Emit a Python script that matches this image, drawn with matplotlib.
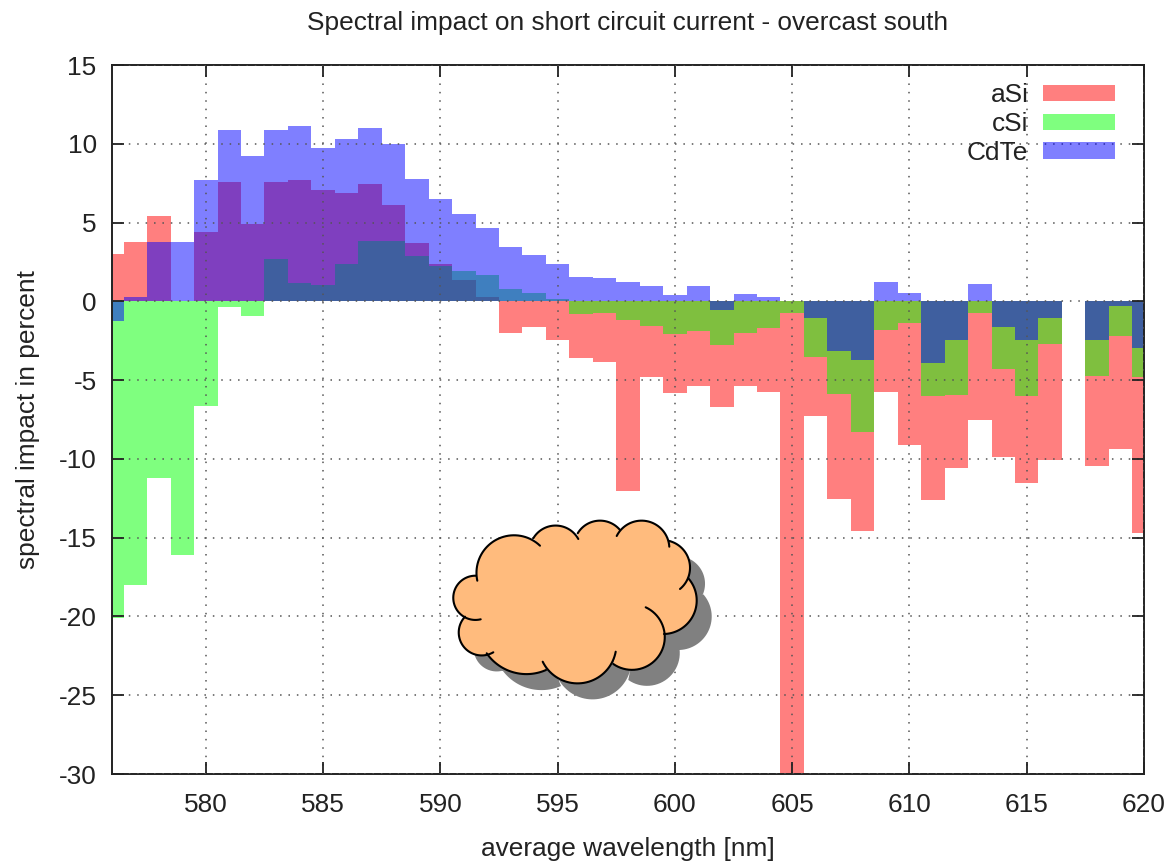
import numpy as np
import matplotlib
matplotlib.use("Agg")
import matplotlib.pyplot as plt
from matplotlib.patches import Patch

plt.rcParams['font.family'] = ['Liberation Sans', 'DejaVu Sans']
plt.rcParams['axes.unicode_minus'] = False

WIDTH, HEIGHT = 1173, 866
FONT_SIZE = 18.9

wavelength = list(range(576, 621))

asi = [3.0, 3.76, 5.43, 0, 4.4, 7.59, 4.93, 7.57, 7.67, 7.08,
       6.87, 7.44, 6.11, 3.72, 2.39, 1.33, 0.25, -2.03, -1.61, -2.47,
       -3.59, -3.85, -12.05, -4.8, -5.81, -5.39, -6.68, -5.39, -5.73, -32.0,
       -7.3, -12.53, -14.6, -5.76, -9.1, -12.59, -10.6, -7.54, -9.9, -11.53,
       -10.05, 0, -10.48, -9.38, -14.7]
csi = [-20.1, -18.0, -11.2, -16.1, -6.67, -0.37, -0.91, 2.66, 1.14, 1.01,
       2.37, 3.8, 3.8, 2.9, 2.26, 1.92, 1.67, 0.8, 0.51, 0.15,
       -0.8, -0.72, -1.21, -1.54, -2.09, -1.88, -2.79, -2.0, -1.69, -0.72,
       -3.54, -5.87, -8.32, -1.85, -1.38, -5.99, -5.95, -0.75, -4.28, -5.99,
       -2.7, 0, -4.77, -2.23, -4.81]
cdte = [-1.27, 0.27, 3.76, 3.76, 7.72, 10.87, 9.22, 10.85, 11.16, 9.73,
        10.32, 10.99, 9.98, 7.78, 6.49, 5.56, 4.65, 3.47, 2.96, 2.39,
        1.52, 1.48, 1.25, 0.95, 0.4, 1.0, -0.53, 0.49, 0.25, 0.05,
        -1.05, -3.18, -3.73, 1.22, 0.56, -3.92, -2.48, 1.07, -1.66, -2.46,
        -1.05, 0, -2.48, -0.29, -2.97]

xticks = list(range(580, 621, 5))
yticks = list(range(-30, 16, 5))

# cloud lobes, three points per arc, in picture pixels
cloud_lobes = [
    [(477.3, 580.7), (506.7, 536.0), (540.0, 545.7)],
    [(533.3, 538.3), (558.3, 525.7), (578.3, 539.0)],
    [(577.7, 533.3), (601.7, 520.7), (620.0, 530.0)],
    [(616.7, 536.0), (643.3, 520.7), (669.3, 546.7)],
    [(669.3, 541.0), (690.0, 566.7), (680.0, 589.0)],
    [(688.3, 578.3), (696.7, 600.0), (664.0, 634.0)],
    [(645.7, 607.3), (664.0, 630.0), (613.3, 664.0)],
    [(615.7, 651.7), (580.0, 683.3), (542.7, 661.7)],
    [(546.0, 670.0), (523.3, 674.0), (486.7, 653.3)],
    [(493.3, 652.3), (460.0, 640.0), (465.0, 616.7)],
    [(480.7, 619.3), (453.3, 596.7), (476.0, 575.7)],
]


def arc_points(p1, p2, p3, n=40):
    # circular arc through three points
    (ax_, ay), (bx, by), (cx, cy) = p1, p2, p3
    d = 2 * (ax_ * (by - cy) + bx * (cy - ay) + cx * (ay - by))
    ux = ((ax_**2 + ay**2) * (by - cy) + (bx**2 + by**2) * (cy - ay) + (cx**2 + cy**2) * (ay - by)) / d
    uy = ((ax_**2 + ay**2) * (cx - bx) + (bx**2 + by**2) * (ax_ - cx) + (cx**2 + cy**2) * (bx - ax_)) / d
    r = np.hypot(ax_ - ux, ay - uy)
    t1 = np.arctan2(ay - uy, ax_ - ux)
    t2 = np.arctan2(by - uy, bx - ux)
    t3 = np.arctan2(cy - uy, cx - ux)
    # go the way that passes through the middle point
    d12 = (t2 - t1) % (2 * np.pi)
    d13 = (t3 - t1) % (2 * np.pi)
    if d12 <= d13:
        t = np.linspace(t1, t1 + d13, n)
    else:
        t = np.linspace(t1, t1 - ((t1 - t3) % (2 * np.pi)), n)
    return ux + r * np.cos(t), uy + r * np.sin(t)


def draw_cloud(fig, ax):
    arcs = [arc_points(*lobe) for lobe in cloud_lobes]
    xs = np.concatenate([a[0] for a in arcs])
    ys = np.concatenate([a[1] for a in arcs])
    to_fig = lambda x, y: (np.asarray(x) / WIDTH, 1 - np.asarray(y) / HEIGHT)
    sx, sy = to_fig(xs + 15, ys + 16)
    ax.fill(sx, sy, color='#808080', lw=0, transform=fig.transFigure, zorder=5)
    fx, fy = to_fig(xs, ys)
    ax.fill(fx, fy, color='#ffbb7d', lw=0, transform=fig.transFigure, zorder=6)
    for x, y in arcs:
        lx, ly = to_fig(x, y)
        ax.plot(lx, ly, color='black', lw=1.5, transform=fig.transFigure, zorder=7,
                solid_capstyle='round')


def main():
    fig = plt.figure(figsize=(WIDTH / 100, HEIGHT / 100), dpi=100)
    ax = fig.add_axes([112 / WIDTH, 1 - 774 / HEIGHT, (1144 - 112) / WIDTH, (774 - 65) / HEIGHT])

    ax.bar(wavelength, asi, width=1, color='#ff0000', alpha=0.5, lw=0)
    ax.bar(wavelength, csi, width=1, color='#00ff00', alpha=0.5, lw=0)
    ax.bar(wavelength, cdte, width=1, color='#0000ff', alpha=0.5, lw=0)

    ax.set_xlim(576, 620)
    ax.set_ylim(-30, 15)
    ax.set_xticks(xticks)
    ax.set_yticks(yticks)
    ax.set_axisbelow(False)
    ax.grid(True, color='#555555', lw=1.1, linestyle=(0, (1, 4.5)))
    ax.tick_params(direction='in', length=8.6, width=1.3, color='#222222', labelcolor='#222222',
                   labelsize=FONT_SIZE, top=True, right=True, pad=11)
    ax.tick_params(axis='x', pad=14)
    for spine in ax.spines.values():
        spine.set_linewidth(1.4)
        spine.set_color('#222222')

    ax.set_xlabel('average wavelength [nm]', fontsize=FONT_SIZE, color='#222222', labelpad=14)
    ax.set_ylabel('spectral impact in percent', fontsize=FONT_SIZE, color='#222222', labelpad=13.5)
    ax.set_title('Spectral impact on short circuit current - overcast south',
                 fontsize=FONT_SIZE, color='#222222', pad=25.5)

    handles = [Patch(color='#ff0000', alpha=0.5, lw=0),
               Patch(color='#00ff00', alpha=0.5, lw=0),
               Patch(color='#0000ff', alpha=0.5, lw=0)]
    leg = ax.legend(handles, ['aSi', 'cSi', 'CdTe'], loc='upper right', frameon=False,
                    markerfirst=False, fontsize=FONT_SIZE, handlelength=2.73, handleheight=0.57,
                    handletextpad=0.57, labelspacing=0.185, borderaxespad=0, borderpad=0,
                    bbox_to_anchor=((1115 - 112) / (1144 - 112), 1 - 18 / (774 - 65)))
    for text in leg.get_texts():
        text.set_color('#222222')

    draw_cloud(fig, ax)
    fig.savefig('out.png', dpi=100)


if __name__ == "__main__":
    main()
